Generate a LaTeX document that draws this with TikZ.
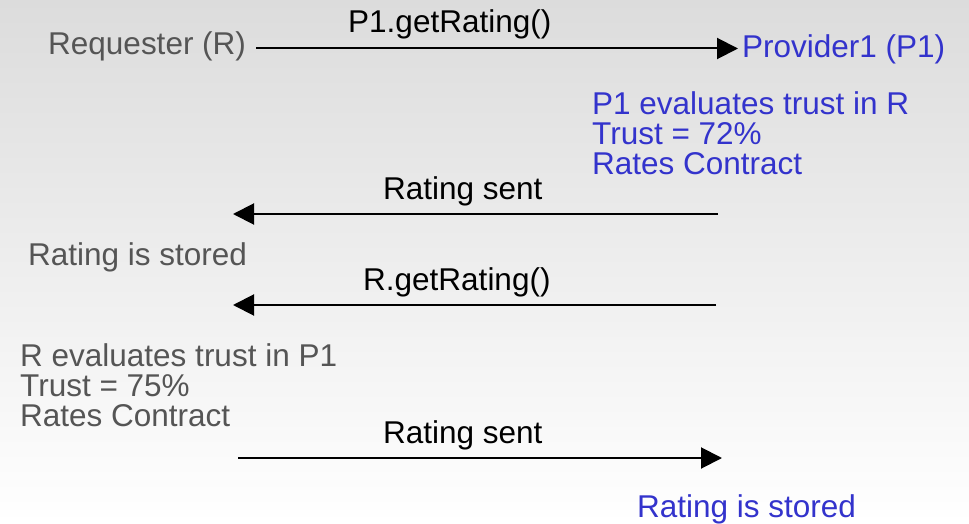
\documentclass[tikz,border=0pt]{standalone}
\usepackage{fontspec}
\setmainfont{Liberation Sans}
\usetikzlibrary{arrows.meta}
\definecolor{tgray}{RGB}{85,85,85}
\definecolor{tblue}{RGB}{51,51,204}
\definecolor{bgtop}{RGB}{220,220,220}
\begin{document}
\begin{tikzpicture}[x=1pt,y=-1pt,
  lbl/.style={inner sep=0pt, font=\fontsize{31.5}{30}\selectfont},
  gtxt/.style={lbl, text=tgray},
  btxt/.style={lbl, text=tblue},
  ktxt/.style={lbl, text=black},
  msg/.style={draw=black, line width=2pt, -{Triangle[length=21pt,width=21pt]}},
]
\shade[top color=bgtop, bottom color=white] (0,0) rectangle (969,524);
\useasboundingbox (0,0) rectangle (969,524);

\node[gtxt, anchor=base west] (req) at (48,55) {Requester (R)};
\node[btxt, anchor=base west] (prov) at (742,58) {Provider1 (P1)};
\node[ktxt, anchor=base west] (m1) at (348,33) {P1.getRating()};
\coordinate (a1s) at (256,48.5);
\coordinate (a1e) at (738,48.5);
\draw[msg] (a1s) -- (a1e);

\node[btxt, anchor=north west, align=left] (p1eval) at (592,91) {P1 evaluates trust in R\\Trust = 72\%\\Rates Contract};

\node[ktxt, anchor=base west] (m2) at (383,199) {Rating sent};
\coordinate (a2s) at (718,214);
\coordinate (a2e) at (233,214);
\draw[msg] (a2s) -- (a2e);

\node[gtxt, anchor=base west] (rstore) at (28,265) {Rating is stored};

\node[ktxt, anchor=base west] (m3) at (363,290) {R.getRating()};
\coordinate (a3s) at (716,305);
\coordinate (a3e) at (233,305);
\draw[msg] (a3s) -- (a3e);

\node[gtxt, anchor=north west, align=left] (reval) at (20,343) {R evaluates trust in P1\\Trust = 75\%\\Rates Contract};

\node[ktxt, anchor=base west] (m4) at (383,443) {Rating sent};
\coordinate (a4s) at (238,458);
\coordinate (a4e) at (722,458);
\draw[msg] (a4s) -- (a4e);

\node[btxt, anchor=base west] (pstore) at (637,517) {Rating is stored};
\end{tikzpicture}
\end{document}
